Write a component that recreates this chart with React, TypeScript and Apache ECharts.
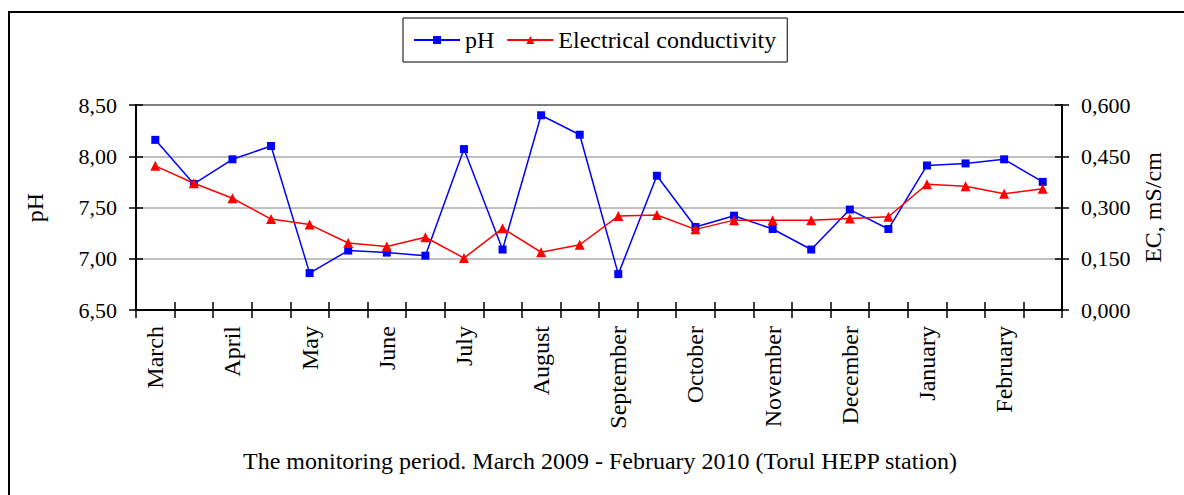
import React, { useEffect, useRef } from "react";
import * as echarts from "echarts";

const months = [
  "March", "April", "May", "June", "July", "August",
  "September", "October", "November", "December", "January", "February",
];
const categories = months.flatMap((m) => [m + " I", m + " II"]);

const phValues = [
  8.16, 7.73, 7.97, 8.1, 6.86, 7.08, 7.06, 7.03, 8.07, 7.09, 8.4, 8.21,
  6.85, 7.81, 7.31, 7.42, 7.29, 7.09, 7.48, 7.29, 7.91, 7.93, 7.97, 7.75,
];
const ecValues = [
  0.422, 0.371, 0.327, 0.266, 0.25, 0.196, 0.186, 0.213, 0.152, 0.239, 0.169, 0.191,
  0.275, 0.278, 0.236, 0.263, 0.263, 0.263, 0.268, 0.273, 0.368, 0.362, 0.34, 0.355,
];

const phTicks = { min: 6.5, max: 8.5, interval: 0.5 };
const ecTicks = { min: 0, max: 0.6, interval: 0.15 };

const xTitle = "The monitoring period. March 2009 - February 2010 (Torul HEPP station)";
const FONT = "'Liberation Serif', 'Times New Roman', serif";

export default function App() {
  const ref = useRef<HTMLDivElement>(null);
  useEffect(() => {
    if (!ref.current) return;
    const chart = echarts.init(ref.current, undefined, { renderer: "svg" });
    const tickStyle = { color: "#000", fontFamily: FONT, fontSize: 22 };
    const textStyle = { color: "#000", fontFamily: FONT, fontSize: 24 };
    chart.setOption({
      animation: false,
      backgroundColor: "#fff",
      grid: { left: 136, right: 122, top: 105, bottom: 185, containLabel: false },
      legend: {
        left: 403,
        top: 18,
        padding: [10, 11, 10, 10],
        borderColor: "#000",
        borderWidth: 1,
        itemWidth: 46,
        itemHeight: 10,
        itemGap: 12,
        textStyle: { ...textStyle },
        data: ["pH", "Electrical conductivity"],
      },
      xAxis: [
        {
          type: "category",
          data: categories,
          boundaryGap: true,
          axisLine: { lineStyle: { color: "#000", width: 2 } },
          axisTick: { show: true, interval: 0, length: 8, lineStyle: { color: "#000", width: 1.5 } },
          axisLabel: {
            ...textStyle,
            rotate: 90,
            margin: 16,
            interval: (i: number) => i % 2 === 0,
            formatter: (v: string) => v.split(" ")[0],
          },
          splitLine: { show: false },
        },
        {
          type: "category",
          data: categories,
          position: "bottom",
          boundaryGap: true,
          axisLine: { show: false },
          axisTick: { show: true, inside: true, interval: 0, length: 8, lineStyle: { color: "#000", width: 1.5 } },
          axisLabel: { show: false },
          splitLine: { show: false },
        },
      ],
      yAxis: [
        {
          type: "value",
          position: "left",
          ...phTicks,
          name: "pH",
          nameLocation: "middle",
          nameGap: 89,
          nameTextStyle: { ...textStyle },
          axisLine: { show: true, lineStyle: { color: "#000", width: 2 } },
          axisTick: { show: true, length: 7, lineStyle: { color: "#000", width: 1.5 } },
          axisLabel: { ...tickStyle, margin: 19, formatter: (v: number) => v.toFixed(2).replace(".", ",") },
          splitLine: {
            show: true,
            lineStyle: { color: ["#c0c0c0", "#c0c0c0", "#c0c0c0", "#c0c0c0", "#808080"], width: 2 },
          },
        },
        {
          type: "value",
          position: "right",
          ...ecTicks,
          name: "EC, mS/cm",
          nameLocation: "middle",
          nameGap: 79,
          nameRotate: 90,
          nameTextStyle: { ...textStyle },
          axisLine: { show: true, lineStyle: { color: "#000", width: 2 } },
          axisTick: { show: true, length: 7, lineStyle: { color: "#000", width: 1.5 } },
          axisLabel: { ...tickStyle, margin: 19, formatter: (v: number) => v.toFixed(3).replace(".", ",") },
          splitLine: { show: false },
        },
        {
          type: "value",
          position: "left",
          ...phTicks,
          axisLine: { show: false },
          axisTick: { show: true, inside: true, length: 7, lineStyle: { color: "#000", width: 1.5 } },
          axisLabel: { show: false },
          splitLine: { show: false },
        },
        {
          type: "value",
          position: "right",
          ...ecTicks,
          axisLine: { show: false },
          axisTick: { show: true, inside: true, length: 7, lineStyle: { color: "#000", width: 1.5 } },
          axisLabel: { show: false },
          splitLine: { show: false },
        },
      ],
      series: [
        {
          name: "pH",
          type: "line",
          xAxisIndex: 0,
          yAxisIndex: 0,
          data: phValues,
          symbol: "rect",
          symbolSize: 8,
          color: "#0000ff",
          lineStyle: { color: "#0000ff", width: 1.5 },
          itemStyle: { color: "#0000ff" },
          z: 3,
        },
        {
          name: "Electrical conductivity",
          type: "line",
          xAxisIndex: 0,
          yAxisIndex: 1,
          data: ecValues,
          symbol: "triangle",
          symbolSize: 10,
          color: "#ff0000",
          lineStyle: { color: "#ff0000", width: 1.5 },
          itemStyle: { color: "#ff0000" },
          z: 4,
        },
      ],
      graphic: [
        {
          type: "rect",
          shape: { x: 9, y: 12, width: 1300, height: 600 },
          style: { fill: "none", stroke: "#000", lineWidth: 2 },
          silent: true,
          z: 100,
        },
        {
          type: "text",
          x: 600,
          y: 461,
          style: {
            text: xTitle,
            textAlign: "center",
            textVerticalAlign: "middle",
            fill: "#000",
            fontFamily: FONT,
            fontSize: 24,
          },
        },
      ],
    });
    return () => chart.dispose();
  }, []);
  return (
    <div
      ref={ref}
      style={{ position: "fixed", left: 0, top: 0, width: 1184, height: 495 }}
    />
  );
}
